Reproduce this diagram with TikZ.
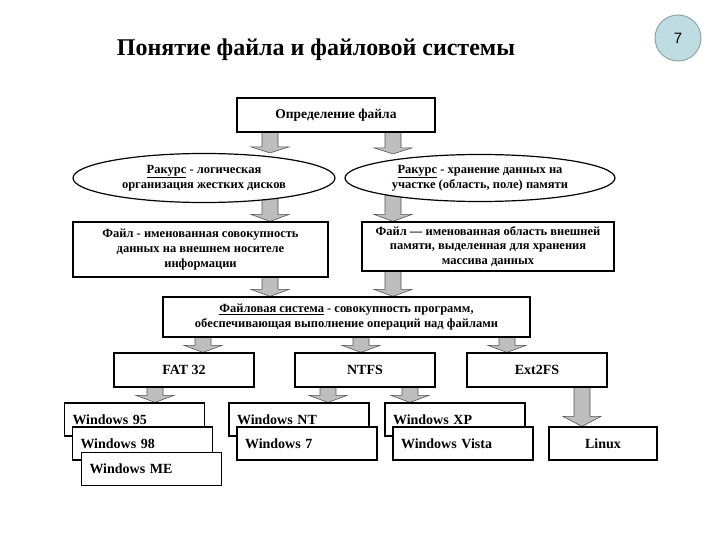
\documentclass[tikz,border=0pt]{standalone}
\usepackage{fontspec}
\setmainfont{Liberation Serif}
\newfontfamily\numfont{Liberation Sans}
\usetikzlibrary{calc,positioning,shapes.geometric,backgrounds}
\definecolor{arrowfill}{HTML}{BEBEBE}
\definecolor{arrowline}{HTML}{555555}
\definecolor{badgefill}{HTML}{BFDCE3}
\definecolor{badgeline}{HTML}{8FA3A8}

\tikzset{
  box/.style={draw, line width=1.2pt, fill=white, inner sep=2pt, align=center,
    font=\bfseries\fontsize{12.5}{15}\selectfont},
  oval/.style={box, ellipse, inner sep=0pt},
  fsbox/.style={box, minimum width=140pt, minimum height=34pt,
    font=\bfseries\fontsize{14}{16}\selectfont},
  winbox/.style={box, text width=124pt, inner xsep=8pt, minimum height=33pt,
    align=left, font=\bfseries\fontsize{14}{16}\selectfont},
  blockarrow/.style={fill=arrowfill, draw=arrowline, line width=0.6pt}
}
% flèche grise : x, nœud de départ, nœud d'arrivée
\newcommand{\blockarrow}[4][7]{%
  \filldraw[blockarrow] let \p1=(#3), \p2=(#4), \p3=(#2,0) in
    (\x3-8pt,\y1) -- (\x3-8pt,\y2+#1pt) -- (\x3-19pt,\y2+#1pt) -- (\x3,\y2)
    -- (\x3+19pt,\y2+#1pt) -- (\x3+8pt,\y2+#1pt) -- (\x3+8pt,\y1) -- cycle;}

\begin{document}
\begin{tikzpicture}[x=1pt, y=-1pt]
  \useasboundingbox (0,0) rectangle (720,540);
  % titre et numéro
  \node[font=\bfseries\fontsize{24}{28}\selectfont] (title) at (316,50) {Понятие файла и файловой системы};
  \node[circle, draw=badgeline, line width=1pt, fill=badgefill, minimum size=46pt,
        font=\numfont\fontsize{15}{17}\selectfont] (num) at (678,38) {7};

  \node[box, minimum width=198pt, minimum height=34pt, font=\bfseries\fontsize{13.5}{16}\selectfont]
    (def) at (336,115) {Определение файла};
  \node[oval, minimum width=262pt, minimum height=49pt] (ell1) at (204,178)
    {\underline{Ракурс} - логическая\\организация жестких дисков};
  \node[oval, minimum width=270pt, minimum height=47pt] (ell2) at (480,178)
    {\underline{Ракурс} - хранение данных на\\участке (область, поле) памяти};
  \node[box, minimum width=255pt, minimum height=55pt] (file1) at (200.5,249.5)
    {Файл - именованная совокупность\\данных на внешнем носителе\\информации};
  \node[box, minimum width=252pt, minimum height=49pt, inner ysep=1pt,
        font=\bfseries\fontsize{12.5}{14.5}\selectfont] (file2) at (488,246.5)
    {Файл — именованная область внешней\\памяти, выделенная для хранения\\массива данных};
  \node[box, minimum width=367pt, minimum height=40pt] (fs) at (346.5,317)
    {\underline{Файловая система} - совокупность программ,\\обеспечивающая выполнение операций над файлами};

  \node[fsbox] (fat)  at (184,370) {FAT 32};
  \node[fsbox] (ntfs) at (365,370) {NTFS};
  \node[fsbox] (ext)  at (537,370) {Ext2FS};

  % boîtes empilées
  \node[winbox] (w95)   at (134.5,419.5) {Windows 95};
  \node[winbox] (w98)   at (142.5,443.5) {Windows 98};
  \node[winbox] (wme)   at (151.5,469)   {Windows ME};
  \node[winbox] (wnt)   at (299,419.5)   {Windows NT};
  \node[winbox] (w7)    at (307,443.5)   {Windows 7};
  \node[winbox] (wxp)   at (455,419.5)   {Windows XP};
  \node[winbox] (wvista) at (463,443.5)  {Windows Vista};
  \node[box, minimum width=108pt, minimum height=33pt, font=\bfseries\fontsize{14}{16}\selectfont]
    (linux) at (603,443.5) {Linux};

  \begin{scope}[on background layer]
    \blockarrow[6]{270}{def.south}{ell1.north}
    \blockarrow[6]{393}{def.south}{ell2.north}
    \blockarrow{270}{ell1.center}{file1.north}
    \blockarrow{393}{ell2.center}{file2.north}
    \blockarrow{270}{file1.south}{fs.north}
    \blockarrow{393}{file2.south}{fs.north}
    \blockarrow{203}{fs.south}{fat.north}
    \blockarrow{361}{fs.south}{ntfs.north}
    \blockarrow{507}{fs.south}{ext.north}
    \blockarrow{155}{fat.south}{w95.north}
    \blockarrow{328}{ntfs.south}{wnt.north}
    \blockarrow{410}{ntfs.south}{wxp.north}
    \blockarrow[10]{582}{ext.south}{linux.north}
  \end{scope}
\end{tikzpicture}
\end{document}
